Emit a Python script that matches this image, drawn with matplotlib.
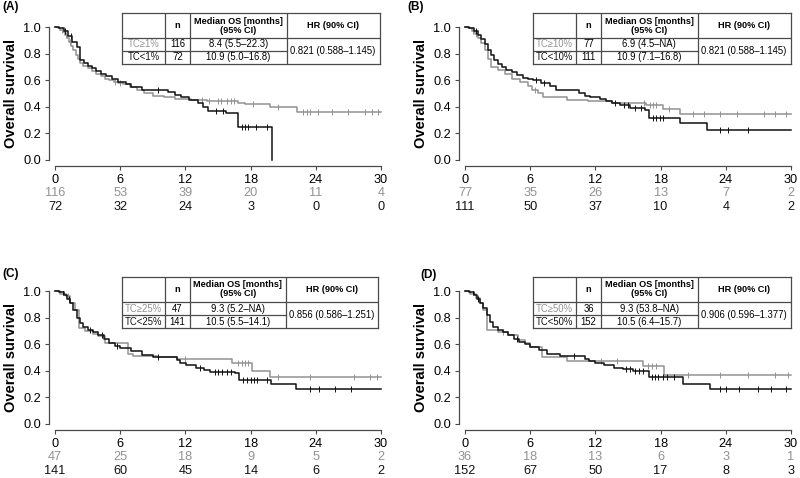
import matplotlib
matplotlib.use("Agg")
import matplotlib.pyplot as plt
import numpy as np

plt.rcParams['font.family'] = ['Liberation Sans', 'DejaVu Sans']

GRAY = '#929292'
BLACK = '#111111'
LINEC = '#4a4a4a'

# ---- panel A: TC>=1% vs TC<1%
a_gray_t = [0.3, 0.5, 0.7, 0.9, 1.1, 1.3, 1.5, 1.7, 1.9, 2.1, 2.3, 2.6, 3.0, 3.4, 3.8, 4.2, 4.6, 5.0, 5.4,
            5.8, 6.3, 6.9, 7.5, 8.2, 9.0, 10.0, 11.0, 12.5, 14.0, 16.8, 17.5, 19.8, 22.3]
a_gray_s = [0.99, 0.98, 0.96, 0.94, 0.92, 0.89, 0.86, 0.83, 0.79, 0.76, 0.73, 0.71, 0.69, 0.67, 0.65, 0.63,
            0.61, 0.60, 0.59, 0.58, 0.57, 0.55, 0.53, 0.50, 0.48, 0.47, 0.46, 0.45, 0.44, 0.43, 0.42, 0.40, 0.36]
a_gray_cens = [0.6, 1.0, 1.4, 5.5, 6.0, 13.5, 14.2, 15.0, 15.3, 15.8, 16.2, 16.5, 18.2, 20.5, 22.8, 23.2,
               23.5, 24.2, 25.5, 27.0, 28.5, 29.2, 29.7]
a_gray_end = 30
a_black_t = [0.4, 0.8, 1.2, 1.6, 2.0, 2.3, 2.7, 3.0, 3.4, 3.8, 4.2, 4.7, 5.2, 5.8, 6.5, 7.0, 8.0, 10.4, 11.0,
             11.6, 12.3, 13.2, 13.6, 14.1, 15.7, 16.8, 20.0]
a_black_s = [0.99, 0.97, 0.93, 0.89, 0.85, 0.75, 0.73, 0.71, 0.69, 0.67, 0.65, 0.63, 0.61, 0.59, 0.57, 0.55,
             0.53, 0.51, 0.49, 0.47, 0.45, 0.43, 0.40, 0.37, 0.35, 0.245, 0.0]
a_black_cens = [0.9, 1.5, 9.5, 14.8, 15.5, 17.2, 17.5, 17.8, 18.5, 19.5]
a_black_end = 20.0

# ---- panel B: TC>=10% vs TC<10%
b_gray_t = [0.3, 0.6, 0.9, 1.2, 1.5, 1.8, 2.1, 2.4, 3.0, 3.7, 4.3, 5.1, 5.8, 6.2, 6.7, 7.2, 9.4, 11.3,
            13.5, 16.7, 18.2, 19.8]
b_gray_s = [0.99, 0.97, 0.95, 0.92, 0.88, 0.83, 0.76, 0.70, 0.68, 0.65, 0.61, 0.59, 0.56, 0.53, 0.50, 0.47,
            0.45, 0.44, 0.425, 0.41, 0.38, 0.345]
b_gray_cens = [0.7, 1.0, 6.4, 16.5, 17.0, 17.3, 17.6, 18.8, 21.0, 22.0, 23.5, 25.0, 27.5, 28.5, 29.5]
b_gray_end = 30
b_black_t = [0.4, 0.8, 1.2, 1.5, 1.8, 2.1, 2.4, 2.7, 3.0, 3.4, 3.8, 4.3, 4.8, 5.3, 5.8, 6.3, 7.0, 7.8, 8.4,
             10.5, 11.0, 11.5, 12.4, 13.0, 13.5, 14.3, 15.2, 16.6, 16.9, 19.8, 22.3]
b_black_s = [0.99, 0.97, 0.94, 0.91, 0.87, 0.83, 0.79, 0.75, 0.72, 0.70, 0.68, 0.66, 0.64, 0.62, 0.61, 0.60,
             0.58, 0.56, 0.53, 0.50, 0.48, 0.47, 0.455, 0.44, 0.43, 0.41, 0.39, 0.375, 0.315, 0.275, 0.225]
b_black_cens = [1.0, 6.5, 7.3, 13.8, 14.6, 15.0, 15.6, 16.2, 17.3, 17.6, 17.9, 18.2, 23.5, 24.2, 26.0]
b_black_end = 30

# ---- panel C: TC>=25% vs TC<25%
c_gray_t = [0.5, 1.0, 1.4, 1.8, 2.2, 2.8, 3.5, 4.0, 4.6, 6.7, 7.2, 9.4, 11.2, 16.3, 18.1, 19.8]
c_gray_s = [0.98, 0.96, 0.91, 0.86, 0.72, 0.70, 0.68, 0.66, 0.61, 0.53, 0.51, 0.50, 0.49, 0.455, 0.40, 0.355]
c_gray_cens = [1.2, 12.0, 16.8, 17.2, 17.5, 17.8, 20.5, 23.5, 27.5, 29.0, 29.6]
c_gray_end = 30
c_black_t = [0.4, 0.8, 1.1, 1.4, 1.7, 2.0, 2.3, 2.6, 3.0, 3.5, 4.0, 4.5, 5.0, 5.5, 6.0, 7.0, 8.0, 9.0, 11.2,
             11.5, 12.1, 13.0, 13.7, 14.3, 16.6, 16.9, 19.9, 22.2]
c_black_s = [0.99, 0.97, 0.94, 0.91, 0.86, 0.80, 0.76, 0.73, 0.71, 0.69, 0.67, 0.64, 0.61, 0.59, 0.57, 0.55,
             0.52, 0.50, 0.48, 0.46, 0.44, 0.42, 0.405, 0.39, 0.38, 0.33, 0.30, 0.265]
c_black_cens = [0.7, 1.3, 3.2, 4.3, 5.7, 9.5, 13.3, 14.7, 15.0, 15.4, 15.8, 16.2, 17.3, 17.7, 18.0, 18.3,
                18.6, 19.5, 23.5, 24.3, 25.8, 27.2]
c_black_end = 30

# ---- panel D: TC>=50% vs TC<50%
d_gray_t = [0.5, 1.0, 1.4, 1.7, 2.0, 3.0, 4.0, 4.9, 5.5, 6.0, 7.1, 9.4, 16.4, 18.3]
d_gray_s = [0.98, 0.95, 0.91, 0.86, 0.71, 0.69, 0.67, 0.63, 0.61, 0.58, 0.505, 0.475, 0.435, 0.365]
d_gray_cens = [1.2, 3.5, 12.5, 14.0, 16.8, 17.2, 17.6, 20.5, 23.5, 26.0, 28.5, 29.7]
d_gray_end = 30
d_black_t = [0.4, 0.8, 1.1, 1.4, 1.7, 2.0, 2.3, 2.6, 3.0, 3.5, 4.0, 4.5, 5.0, 5.5, 6.0, 6.8, 7.5, 8.7, 11.0,
             11.4, 12.0, 12.8, 13.7, 14.5, 15.5, 16.9, 20.1, 22.5]
d_black_s = [0.99, 0.97, 0.94, 0.91, 0.87, 0.82, 0.77, 0.73, 0.71, 0.69, 0.67, 0.64, 0.62, 0.60, 0.58, 0.56,
             0.53, 0.51, 0.49, 0.47, 0.455, 0.44, 0.42, 0.41, 0.40, 0.355, 0.30, 0.265]
d_black_cens = [0.7, 1.2, 4.8, 10.0, 14.8, 15.2, 15.6, 16.0, 16.4, 17.2, 17.5, 17.8, 18.2, 18.6, 19.2, 23.5,
                24.0, 25.2, 27.0, 28.2, 29.5]
d_black_end = 30

# at-risk tables
risk_ticks = [0, 6, 12, 18, 24, 30]
a_risk_gray = [116, 53, 39, 20, 11, 4]
a_risk_black = [72, 32, 24, 3, 0, 0]
b_risk_gray = [77, 35, 26, 13, 7, 2]
b_risk_black = [111, 50, 37, 10, 4, 2]
c_risk_gray = [47, 25, 18, 9, 5, 2]
c_risk_black = [141, 60, 45, 14, 6, 2]
d_risk_gray = [36, 18, 13, 6, 3, 1]
d_risk_black = [152, 67, 50, 17, 8, 3]

# inset summary tables
a_groups = ['TC≥1%', 'TC<1%']
a_n = [116, 72]
a_median = ['8.4 (5.5–22.3)', '10.9 (5.0–16.8)']
a_hr = '0.821 (0.588–1.145)'
b_groups = ['TC≥10%', 'TC<10%']
b_n = [77, 111]
b_median = ['6.9 (4.5–NA)', '10.9 (7.1–16.8)']
b_hr = '0.821 (0.588–1.145)'
c_groups = ['TC≥25%', 'TC<25%']
c_n = [47, 141]
c_median = ['9.3 (5.2–NA)', '10.5 (5.5–14.1)']
c_hr = '0.856 (0.586–1.251)'
d_groups = ['TC≥50%', 'TC<50%']
d_n = [36, 152]
d_median = ['9.3 (53.8–NA)', '10.5 (6.4–15.7)']
d_hr = '0.906 (0.596–1.377)'


def km_curve(ax, times, surv, cens, end, color):
    t = np.concatenate([[0.0], times, [end]])
    s = np.concatenate([[1.0], surv, [surv[-1]]])
    ax.step(t, s, where='post', color=color, lw=1.1, clip_on=False, zorder=3)
    times = np.asarray(times)
    idx = np.searchsorted(times, cens, side='right')
    cy = np.where(idx > 0, np.asarray(surv)[np.maximum(idx - 1, 0)], 1.0)
    ax.plot(cens, cy, ls='none', marker='|', ms=3.8, mew=0.7, color=color, zorder=3)


def summary_table(ax, bounds, groups, ns, medians, hr):
    tab = ax.inset_axes(bounds)
    tab.set_xlim(0, 1)
    tab.set_ylim(0, 1)
    tab.set_xticks([])
    tab.set_yticks([])
    tab.set_zorder(5)
    tab.set_facecolor('white')
    for sp in tab.spines.values():
        sp.set_color(LINEC)
        sp.set_linewidth(0.9)
    cols = [0, 0.168, 0.264, 0.64, 1.0]
    rows = [1.0, 0.51, 0.255, 0.0]
    for c in cols[1:-1]:
        tab.axvline(c, color=LINEC, lw=0.9)
    tab.axhline(rows[1], color=LINEC, lw=0.9)
    tab.plot([0, cols[3]], [rows[2], rows[2]], color=LINEC, lw=0.9)
    hy = (rows[0] + rows[1]) / 2
    fh = 6.6
    fs = 6.85
    tab.text((cols[1] + cols[2]) / 2, hy, 'n', ha='center', va='center', fontsize=fh, fontweight='bold')
    tab.text((cols[2] + cols[3]) / 2, hy, 'Median OS [months]\n(95% CI)', ha='center', va='center',
             fontsize=fh, fontweight='bold', linespacing=1.0)
    tab.text((cols[3] + cols[4]) / 2, hy, 'HR (90% CI)', ha='center', va='center', fontsize=fh,
             fontweight='bold')
    for i, (g, n, m) in enumerate(zip(groups, ns, medians)):
        ry = (rows[i + 1] + rows[i + 2]) / 2
        tab.text((cols[0] + cols[1]) / 2, ry, g, ha='center', va='center', fontsize=fs,
                 color=GRAY if i == 0 else BLACK)
        tab.text((cols[1] + cols[2]) / 2, ry, str(n), ha='center', va='center', fontsize=fs)
        tab.text((cols[2] + cols[3]) / 2, ry, m, ha='center', va='center', fontsize=fs)
    tab.text((cols[3] + cols[4]) / 2, rows[2], hr, ha='center', va='center', fontsize=fs)


def panel(ax, gray, black, risk_gray, risk_black, table, tb):
    km_curve(ax, *gray, GRAY)
    km_curve(ax, *black, BLACK)
    ax.set_xlim(0, 30)
    ax.set_ylim(0, 1)
    ax.set_xticks(risk_ticks)
    ax.set_yticks(np.arange(0, 1.01, 0.2))
    ax.set_yticklabels(['%.1f' % v for v in np.arange(0, 1.01, 0.2)])
    for sp in ['top', 'right']:
        ax.spines[sp].set_visible(False)
    for sp in ['left', 'bottom']:
        ax.spines[sp].set_position(('outward', 4.5))
        ax.spines[sp].set_color(LINEC)
        ax.spines[sp].set_linewidth(0.9)
    ax.tick_params(direction='out', length=3, width=0.8, color=LINEC, labelsize=9.2, pad=2.5)
    ax.set_ylabel('Overall survival', fontsize=10.5, fontweight='bold')
    ax.yaxis.set_label_coords(-0.112, 0.5)
    for x, g, b in zip(risk_ticks, risk_gray, risk_black):
        ax.text(x, -0.245, str(g), transform=ax.get_xaxis_transform(), ha='center', va='center',
                fontsize=9.2, color=GRAY)
        ax.text(x, -0.35, str(b), transform=ax.get_xaxis_transform(), ha='center', va='center',
                fontsize=9.2, color=BLACK)
    summary_table(ax, tb, *table)


fig = plt.figure(figsize=(8, 4.78), dpi=100)
axA = fig.add_axes([0.06875, 0.6653, 0.4075, 0.2782])
axB = fig.add_axes([0.58125, 0.6653, 0.4075, 0.2782])
axC = fig.add_axes([0.06875, 0.1130, 0.4075, 0.2782])
axD = fig.add_axes([0.58125, 0.1130, 0.4075, 0.2782])

panel(axA, (a_gray_t, a_gray_s, a_gray_cens, a_gray_end), (a_black_t, a_black_s, a_black_cens, a_black_end),
      a_risk_gray, a_risk_black, (a_groups, a_n, a_median, a_hr), [0.2055, 0.722, 0.79, 0.383])
panel(axB, (b_gray_t, b_gray_s, b_gray_cens, b_gray_end), (b_black_t, b_black_s, b_black_cens, b_black_end),
      b_risk_gray, b_risk_black, (b_groups, b_n, b_median, b_hr), [0.2086, 0.722, 0.79, 0.383])
panel(axC, (c_gray_t, c_gray_s, c_gray_cens, c_gray_end), (c_black_t, c_black_s, c_black_cens, c_black_end),
      c_risk_gray, c_risk_black, (c_groups, c_n, c_median, c_hr), [0.2055, 0.72, 0.785, 0.387])
panel(axD, (d_gray_t, d_gray_s, d_gray_cens, d_gray_end), (d_black_t, d_black_s, d_black_cens, d_black_end),
      d_risk_gray, d_risk_black, (d_groups, d_n, d_median, d_hr), [0.2086, 0.72, 0.79, 0.387])

for lab, x, y in [('(A)', 0.003, 0.997), ('(B)', 0.509, 0.997), ('(C)', 0.003, 0.44), ('(D)', 0.525, 0.438)]:
    fig.text(x, y, lab, fontsize=8.5, fontweight='bold', ha='left', va='top')

fig.savefig('out.png', dpi=100)
